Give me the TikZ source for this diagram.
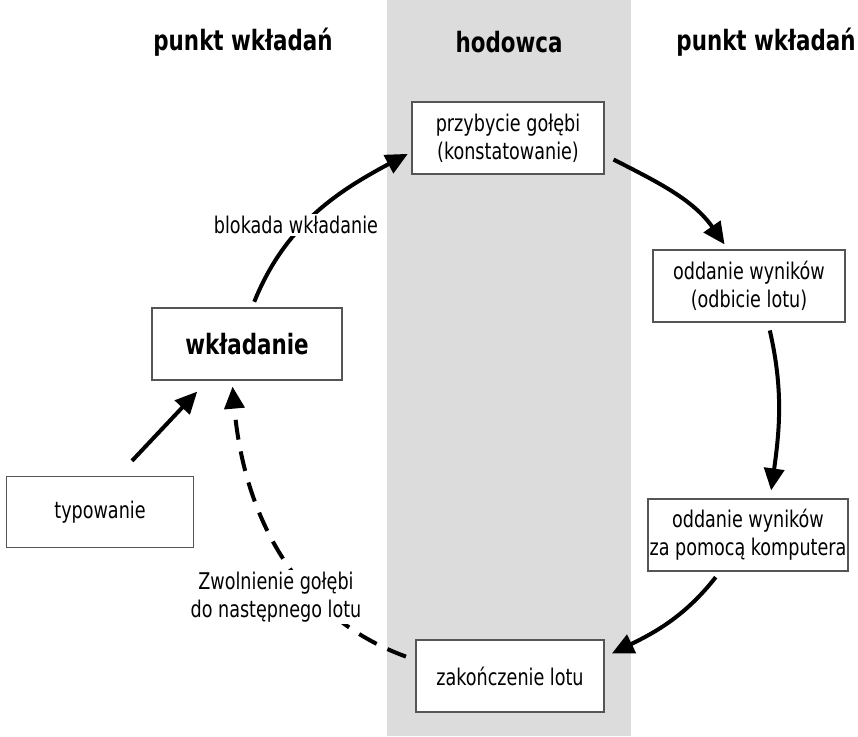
\documentclass[tikz,border=0pt]{standalone}
\usepackage{fontspec}
\setmainfont[FakeStretch=0.85]{DejaVu Sans Condensed}
\usetikzlibrary{arrows.meta,calc}
\definecolor{band}{HTML}{DCDCDC}
\definecolor{boxline}{HTML}{555555}
\begin{document}
\begin{tikzpicture}[x=1pt,y=1pt,
  stepbox/.style={draw=boxline,line width=1.3pt,fill=white,align=center,font=\fontsize{23}{28}\selectfont,inner sep=0pt},
  title/.style={font=\bfseries\fontsize{28}{30}\selectfont},
  lbl/.style={font=\fontsize{23}{28}\selectfont,align=center,fill=white,inner sep=2pt},
  flow/.style={line width=4pt,-{Triangle[length=22pt,width=20pt]}},
  dflow/.style={flow,dash pattern=on 20pt off 12pt}]
\useasboundingbox (0,0) rectangle (858,-736);
\fill[band] (387,0) rectangle (631,-736);
\node[title] (t1) at (243,-42) {punkt wkładań};
\node[title] (t2) at (509,-42) {hodowca};
\node[title] (t3) at (766,-42) {punkt wkładań};
\node[stepbox,minimum width=192pt,minimum height=72pt] (prz) at (508,-138) {przybycie gołębi\\(konstatowanie)};
\node[stepbox,minimum width=192pt,minimum height=72pt] (odd) at (749,-286) {oddanie wyników\\(odbicie lotu)};
\node[stepbox,minimum width=200pt,minimum height=72pt] (kom) at (748,-535) {oddanie wyników\\za pomocą komputera};
\node[stepbox,minimum width=188pt,minimum height=72pt] (zak) at (510,-676) {zakończenie lotu};
\node[stepbox,minimum width=190pt,minimum height=72pt,font=\bfseries\fontsize{28}{30}\selectfont] (wk) at (247,-344) {wkładanie};
\node[stepbox,minimum width=187pt,minimum height=71pt] (typ) at (100,-512) {typowanie};
% arrows
\draw[flow,shorten <=6pt,shorten >=4pt] ([xshift=5pt]wk.north) to[out=68,in=208] ([yshift=-14pt]prz.west);
\node[lbl] (l1) at (296,-225) {blokada wkładanie};
\draw[flow,shorten <=10pt,shorten >=6pt] ([yshift=-17pt]prz.east) to[out=-27,in=125] ([xshift=-21pt]odd.north);
\draw[flow,shorten <=8pt,shorten >=8pt] ([xshift=19pt]odd.south) to[out=-77,in=82] ([xshift=22pt]kom.north);
\draw[flow,shorten <=7pt,shorten >=8pt] ([xshift=-28pt]kom.south) to[out=-128,in=26] ([yshift=19pt]zak.east);
\draw[dflow,shorten <=10pt,shorten >=6pt] ([yshift=16pt]zak.west) to[out=160,in=-85] ([xshift=-15pt]wk.south);
\node[lbl] (l2) at (276,-597) {Zwolnienie gołębi\\do następnego lotu};
\draw[flow,shorten >=4pt] ($(typ.north)+(32pt,15pt)$) -- ($(wk.south)+(-47pt,-8pt)$);
\end{tikzpicture}
\end{document}
